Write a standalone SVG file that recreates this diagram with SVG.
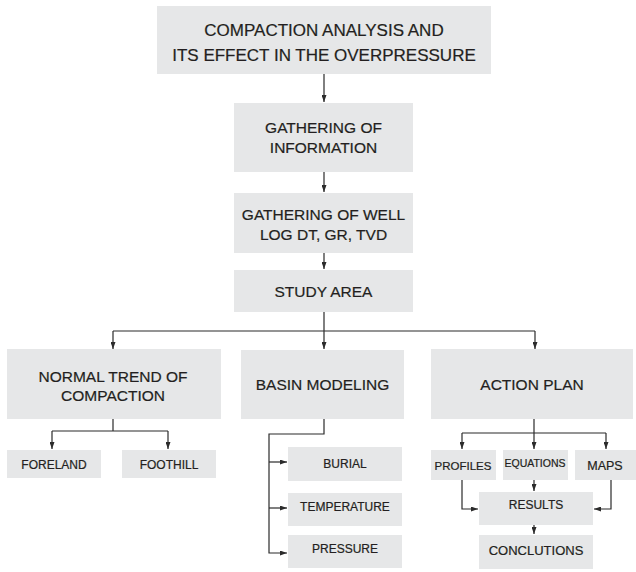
<svg xmlns="http://www.w3.org/2000/svg" width="636" height="572" viewBox="0 0 636 572">
<defs>
<marker id="ah" viewBox="0 0 7 5" refX="7" refY="2.5" markerWidth="7" markerHeight="5" markerUnits="userSpaceOnUse" orient="auto">
<path d="M0,0 L7,2.5 L0,5 z" fill="#2b2b2b"/>
</marker>
<style>
.box{fill:#e6e7e8}
text{font-family:"Liberation Sans",Arial,sans-serif;fill:#231f20;text-anchor:middle;stroke:#231f20;stroke-width:0.2}
.t1{font-size:17px}
.t2{font-size:15.5px}
.t3{font-size:12px}
.c{fill:none;stroke:#2b2b2b;stroke-width:1.2}
.a{marker-end:url(#ah)}
</style>
</defs>
<rect width="636" height="572" fill="#ffffff"/>
<g id="connectors">
<path class="c a" d="M324,74 V102"/>
<path class="c a" d="M324,172 V192"/>
<path class="c a" d="M324,253 V269"/>
<path class="c a" d="M324,312 V349"/>
<path class="c" d="M113,331 H535"/>
<path class="c a" d="M113,331 V349"/>
<path class="c a" d="M535,331 V349"/>
<path class="c" d="M113,419 V431 M52,431 H168"/>
<path class="c a" d="M52,431 V449"/>
<path class="c a" d="M168,431 V449"/>
<path class="c a" d="M324,419 V434 H269 V553 H287"/>
<path class="c a" d="M269,462 H287"/>
<path class="c a" d="M269,508 H287"/>
<path class="c a" d="M534,419 V449"/>
<path class="c" d="M462,433 H606"/>
<path class="c a" d="M462,433 V449"/>
<path class="c a" d="M606,433 V449"/>
<path class="c a" d="M534,480 V491"/>
<path class="c a" d="M462,480 V509 H478"/>
<path class="c a" d="M611,480 V509 H594"/>
<path class="c a" d="M534,525 V534"/>
</g>
<g id="n-top">
<rect class="box" x="157" y="6" width="334" height="68"/>
<text class="t1" x="324" y="36">COMPACTION ANALYSIS AND</text>
<text class="t1" x="324" y="61">ITS EFFECT IN THE OVERPRESSURE</text>
</g>
<g id="n-info">
<rect class="box" x="234" y="103" width="179" height="69"/>
<text class="t2" x="323.5" y="133">GATHERING OF</text>
<text class="t2" x="323.5" y="153">INFORMATION</text>
</g>
<g id="n-well">
<rect class="box" x="234" y="193" width="179" height="60"/>
<text class="t2" x="323.5" y="220">GATHERING OF WELL</text>
<text class="t2" x="323.5" y="240">LOG DT, GR, TVD</text>
</g>
<g id="n-study">
<rect class="box" x="234" y="270" width="179" height="42"/>
<text class="t2" x="323.5" y="297">STUDY AREA</text>
</g>
<g id="n-normal">
<rect class="box" x="7" y="349" width="214" height="70"/>
<text class="t2" x="113" y="382">NORMAL TREND OF</text>
<text class="t2" x="113" y="401">COMPACTION</text>
</g>
<g id="n-basin">
<rect class="box" x="241" y="350" width="163" height="69"/>
<text class="t2" x="322.5" y="390">BASIN MODELING</text>
</g>
<g id="n-action">
<rect class="box" x="431" y="349" width="202" height="70"/>
<text class="t2" x="532" y="390">ACTION PLAN</text>
</g>
<g id="n-foreland">
<rect class="box" x="7" y="450" width="94" height="28"/>
<text class="t3" x="54" y="469">FORELAND</text>
</g>
<g id="n-foothill">
<rect class="box" x="122" y="450" width="94" height="28"/>
<text class="t3" x="169" y="469">FOOTHILL</text>
</g>
<g id="n-burial">
<rect class="box" x="288" y="447" width="114" height="34"/>
<text class="t3" x="345" y="468">BURIAL</text>
</g>
<g id="n-temperature">
<rect class="box" x="288" y="493" width="114" height="33"/>
<text class="t3" x="345" y="511">TEMPERATURE</text>
</g>
<g id="n-pressure">
<rect class="box" x="288" y="535" width="114" height="33"/>
<text class="t3" x="345" y="553">PRESSURE</text>
</g>
<g id="n-profiles">
<rect class="box" x="431" y="450" width="65" height="30"/>
<text x="463" y="470" style="font-size:11.5px">PROFILES</text>
</g>
<g id="n-equations">
<rect class="box" x="503" y="450" width="65" height="30"/>
<text x="535" y="467" style="font-size:10.5px">EQUATIONS</text>
</g>
<g id="n-maps">
<rect class="box" x="575" y="450" width="61" height="30"/>
<text x="605" y="470" style="font-size:12.5px">MAPS</text>
</g>
<g id="n-results">
<rect class="box" x="479" y="492" width="114" height="33"/>
<text x="536" y="509" style="font-size:12px">RESULTS</text>
</g>
<g id="n-conclutions">
<rect class="box" x="479" y="535" width="114" height="34"/>
<text x="536" y="555" style="font-size:13px">CONCLUTIONS</text>
</g>
</svg>
